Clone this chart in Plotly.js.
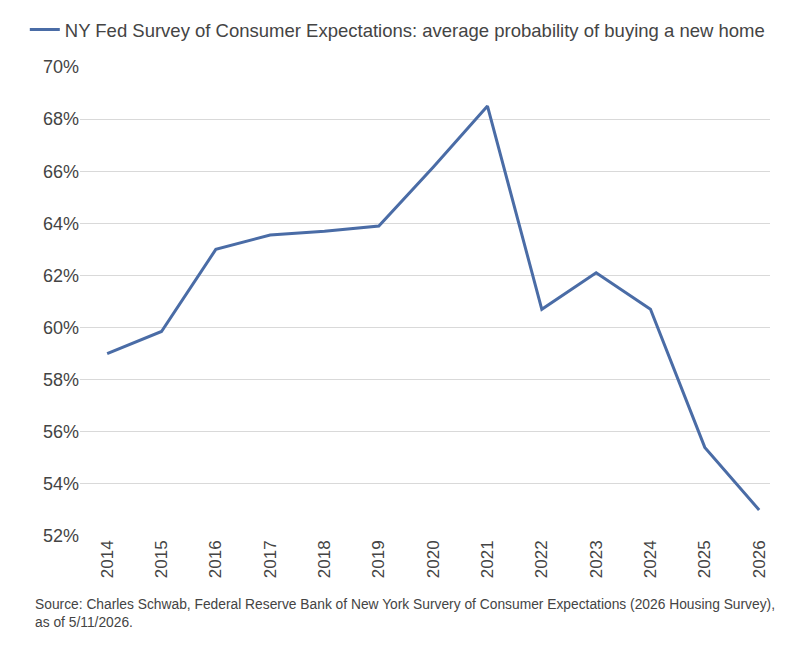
<!DOCTYPE html>
<html><head><meta charset="utf-8">
<script src="https://cdn.plot.ly/plotly-3.0.1.min.js"></script>
<style>body{margin:0;background:#fff}</style></head>
<body><div id="chart" style="width:811px;height:659px"></div>
<script>
var years = ['2014','2015','2016','2017','2018','2019','2020','2021','2022','2023','2024','2025','2026'];
var probability = [0.590, 0.5985, 0.630, 0.6355, 0.637, 0.639, 0.6615, 0.685, 0.607, 0.621, 0.607, 0.554, 0.530];
var seriesName = 'NY Fed Survey of Consumer Expectations: average probability of buying a new home';

var trace = [{x: years, y: probability, type: 'scatter', mode: 'lines', name: seriesName,
  line: {color: '#4a6ca6', width: 3}}];
var layout = {
  width: 811, height: 659, margin: {l: 80, r: 41, t: 67, b: 123, autoexpand: false},
  paper_bgcolor: '#fff', plot_bgcolor: '#fff',
  font: {family: 'Liberation Sans, Arial, sans-serif', size: 17, color: '#444'},
  showlegend: true,
  legend: {x: -0.08, y: 1.079, xanchor: 'left', yanchor: 'middle', orientation: 'h', itemwidth: 30, font: {size: 18.5, color: '#444'}},
  xaxis: {type: 'category', tickangle: -90, range: [-0.5, 12.2], showgrid: false, ticks: '', showline: false, tickfont: {size: 17}},
  yaxis: {range: [0.52, 0.70], dtick: 0.02, tickformat: '.0%', gridcolor: '#d9d9d9', zeroline: false, ticks: '', tickfont: {size: 18}},
  annotations: [{xref: 'paper', yref: 'paper', x: -0.068, y: -0.125, xanchor: 'left', yanchor: 'top', align: 'left', showarrow: false,
    font: {size: 13.8, color: '#444'},
    text: 'Source: Charles Schwab, Federal Reserve Bank of New York Survery of Consumer Expectations (2026 Housing Survey),<br>as of 5/11/2026.'}]
};
Plotly.newPlot('chart', trace, layout, {displayModeBar: false});
</script></body></html>
